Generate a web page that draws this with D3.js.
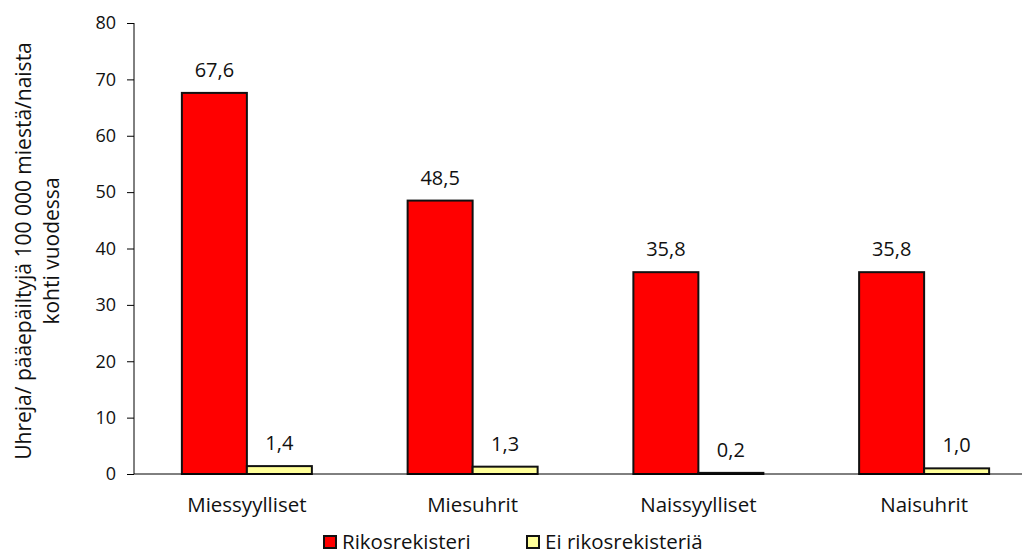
<!DOCTYPE html>
<html>
<head>
<meta charset="utf-8">
<script src="https://cdn.jsdelivr.net/npm/d3@7"></script>
<style>
  body { margin: 0; background: #fff; }
  svg { display: block; font-family: "Open Sans", sans-serif; }
</style>
</head>
<body>
<div id="chart"></div>
<script>
const categories = ["Miessyylliset", "Miesuhrit", "Naissyylliset", "Naisuhrit"];
const seriesNames = ["Rikosrekisteri", "Ei rikosrekisteriä"];
const rikosrekisteri = [67.6, 48.5, 35.8, 35.8];
const eiRikosrekisteria = [1.4, 1.3, 0.2, 1.0];
const yTicks = [0, 10, 20, 30, 40, 50, 60, 70, 80];
const colors = ["#ff0000", "#ffff99"];

const W = 1022, H = 554;
const margin = { top: 23, left: 134, bottom: 80 };
const plotBottom = H - margin.bottom;

const rows = categories.map((c, i) => ({
  cat: c,
  vals: [rikosrekisteri[i], eiRikosrekisteria[i]]
}));

const svg = d3.select("#chart").append("svg")
  .attr("width", W).attr("height", H);

const x = d3.scaleBand().domain(categories).range([margin.left, 1037]).padding(0);
const x1 = d3.scaleBand().domain(seriesNames).range([0, 130]);
const pairOffset = (x.bandwidth() - 130) / 2;
const y = d3.scaleLinear().domain([0, 80]).range([plotBottom, margin.top]);

const fmt = v => d3.format(".1f")(v).replace(".", ",");

// y axis
const yAxis = svg.append("g")
  .attr("transform", `translate(${margin.left},0)`)
  .call(d3.axisLeft(y).tickValues(yTicks).tickSize(7).tickPadding(11).tickFormat(d3.format("d")));
yAxis.select(".domain").attr("d", `M0,${y(80)}V${y(0)}`).attr("stroke", "#000");
yAxis.selectAll("line").attr("stroke", "#000");
yAxis.selectAll("text").attr("font-size", 18).attr("fill", "#111")
  .attr("font-family", "Open Sans, sans-serif");

// bars
const groups = svg.append("g").selectAll("g")
  .data(rows).join("g")
  .attr("transform", d => `translate(${x(d.cat) + pairOffset},0)`);

groups.selectAll("rect")
  .data(d => d.vals.map((v, i) => ({ v, i })))
  .join("rect")
  .attr("x", d => x1(seriesNames[d.i]))
  .attr("y", d => y(d.v))
  .attr("width", x1.bandwidth())
  .attr("height", d => y(0) - y(d.v))
  .attr("fill", d => colors[d.i])
  .attr("stroke", "#111")
  .attr("stroke-width", 2);

groups.selectAll("text")
  .data(d => d.vals.map((v, i) => ({ v, i })))
  .join("text")
  .attr("x", d => x1(seriesNames[d.i]) + x1.bandwidth() / 2)
  .attr("y", d => y(d.v) - 16)
  .attr("text-anchor", "middle")
  .attr("font-size", 20)
  .attr("fill", "#111")
  .text(d => fmt(d.v));

// x axis line
svg.append("line")
  .attr("x1", margin.left).attr("x2", W)
  .attr("y1", y(0)).attr("y2", y(0))
  .attr("stroke", "#000");

svg.append("g").selectAll("text")
  .data(categories).join("text")
  .attr("x", d => x(d) + x.bandwidth() / 2)
  .attr("y", plotBottom + 38)
  .attr("text-anchor", "middle")
  .attr("font-size", 20.5)
  .attr("fill", "#111")
  .text(d => d);

// y label
const yl = svg.append("text")
  .attr("transform", "translate(0,251) rotate(-90)")
  .attr("text-anchor", "middle")
  .attr("font-size", 21)
  .attr("fill", "#111");
yl.append("tspan").attr("x", 0).attr("y", 31).text("Uhreja/ pääepäiltyjä 100 000 miestä/naista");
yl.append("tspan").attr("x", 0).attr("y", 59).text("kohti vuodessa");

// legend
const legendX = [323, 526];
const lg = svg.append("g").selectAll("g")
  .data(seriesNames).join("g")
  .attr("transform", (d, i) => `translate(${legendX[i]},535)`);
lg.append("rect")
  .attr("x", 1).attr("y", 1)
  .attr("width", 12).attr("height", 12)
  .attr("fill", (d, i) => colors[i])
  .attr("stroke", "#111").attr("stroke-width", 2);
lg.append("text")
  .attr("x", 19).attr("y", 14)
  .attr("font-size", 20.5)
  .attr("fill", "#111")
  .text(d => d);
</script>
</body>
</html>
